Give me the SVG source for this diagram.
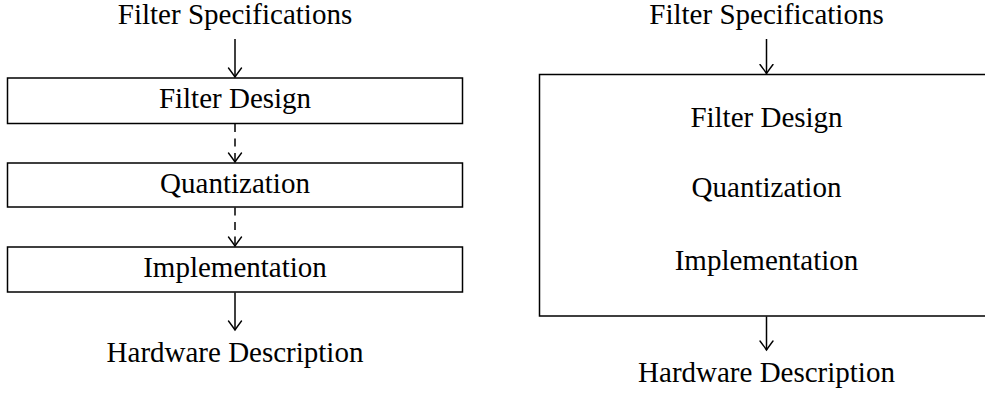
<svg xmlns="http://www.w3.org/2000/svg" width="985" height="394" viewBox="0 0 985 394">
  <style>
    text { font-family: "Liberation Serif", "Times New Roman", serif; font-size: 29px; fill: #000; text-anchor: middle; }
    .box { fill: none; stroke: #000; stroke-width: 1.5; }
    .edge { fill: none; stroke: #000; stroke-width: 1.5; }
    .dashed { stroke-dasharray: 8 6.5; }
  </style>
  <defs>
    <!-- curved "to" style arrow tip -->
    <marker id="to" viewBox="-10 -8 12 16" markerWidth="12" markerHeight="16" refX="0" refY="0" orient="auto" markerUnits="userSpaceOnUse">
      <path d="M -9 -6.5 Q -3 -2 0 0 Q -3 2 -9 6.5" fill="none" stroke="#000" stroke-width="1.4" stroke-linecap="round"/>
    </marker>
  </defs>

  <rect width="985" height="394" fill="#fff"/>

  <!-- Left flow: separate stages -->
  <g id="spec-left"><text x="235" y="24">Filter Specifications</text></g>
  <g id="design-left">
    <rect class="box" x="7.5" y="78" width="455" height="45.5"/>
    <text x="235" y="108">Filter Design</text>
  </g>
  <g id="quant-left">
    <rect class="box" x="7.5" y="163" width="455" height="44"/>
    <text x="235" y="193">Quantization</text>
  </g>
  <g id="impl-left">
    <rect class="box" x="7.5" y="247" width="455" height="45"/>
    <text x="235" y="277">Implementation</text>
  </g>
  <g id="hw-left"><text x="235" y="362">Hardware Description</text></g>

  <!-- Right flow: combined stage -->
  <g id="spec-right"><text x="766.5" y="24">Filter Specifications</text></g>
  <g id="combined-right">
    <path class="box" d="M 1000 74.5 H 539.5 V 316 H 1000"/>
    <text x="766.5" y="127">Filter Design</text>
    <text x="766.5" y="197">Quantization</text>
    <text x="766.5" y="270">Implementation</text>
  </g>
  <g id="hw-right"><text x="766.5" y="382">Hardware Description</text></g>

  <g id="connectors">
    <line class="edge" x1="235" y1="39" x2="235" y2="77" marker-end="url(#to)"/>
    <line class="edge dashed" x1="235" y1="124" x2="235" y2="162" marker-end="url(#to)"/>
    <line class="edge dashed" x1="235" y1="207.5" x2="235" y2="246" marker-end="url(#to)"/>
    <line class="edge" x1="235" y1="292.5" x2="235" y2="330" marker-end="url(#to)"/>
    <line class="edge" x1="766.5" y1="39" x2="766.5" y2="73.5" marker-end="url(#to)"/>
    <line class="edge" x1="766.5" y1="316.5" x2="766.5" y2="350" marker-end="url(#to)"/>
  </g>
</svg>
